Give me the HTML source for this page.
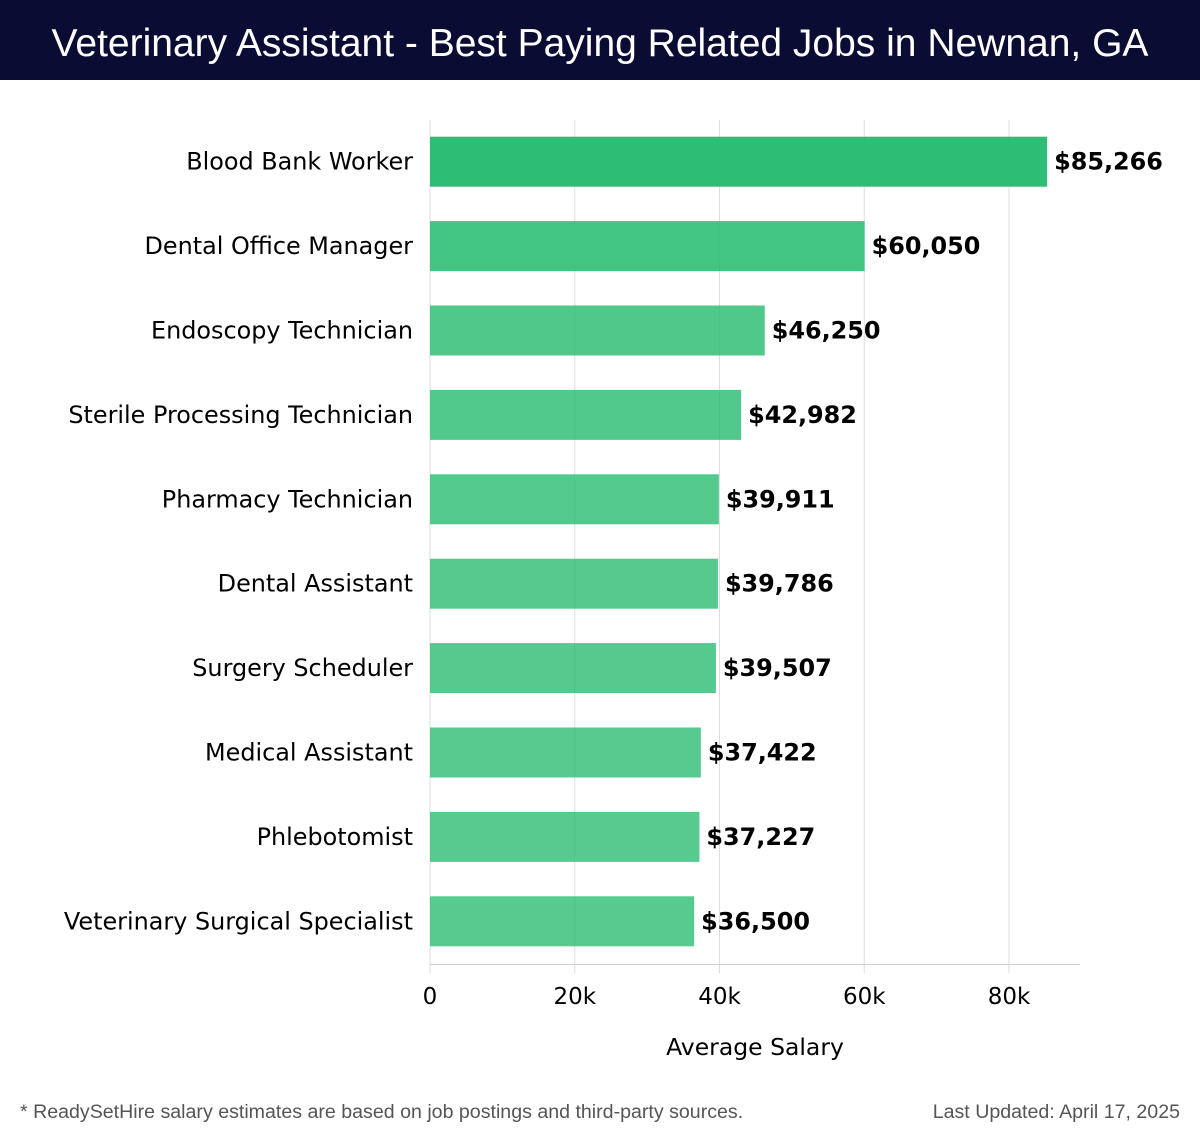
<!DOCTYPE html>
<html><head><meta charset="utf-8"><style>
body{margin:0;width:1200px;height:1140px;background:#fff;overflow:hidden;font-family:"DejaVu Sans","Liberation Sans",sans-serif}
#hdr{position:absolute;left:0;top:0;width:1200px;height:80px;background:#0b0c33;color:#fff;font-family:"Liberation Sans",sans-serif;font-size:39px;text-align:center;line-height:88px}
.ft{position:absolute;top:1101px;font-family:"Liberation Sans",sans-serif;font-size:19.6px;color:#555}
</style></head><body>
<div id="hdr">Veterinary Assistant - Best Paying Related Jobs in Newnan, GA</div>
<svg id="chart" width="1200" height="1140" style="position:absolute;left:0;top:0"></svg>
<div class="ft" style="left:20px">* ReadySetHire salary estimates are based on job postings and third-party sources.</div>
<div class="ft" style="right:20px">Last Updated: April 17, 2025</div>
<script>
const categories=["Blood Bank Worker","Dental Office Manager","Endoscopy Technician","Sterile Processing Technician","Pharmacy Technician","Dental Assistant","Surgery Scheduler","Medical Assistant","Phlebotomist","Veterinary Surgical Specialist"];
const values=[85266,60050,46250,42982,39911,39786,39507,37422,37227,36500];
const ticks=[0,20000,40000,60000,80000];
const tickLabels=["0","20k","40k","60k","80k"];
const svg=document.getElementById('chart');const NS='http://www.w3.org/2000/svg';
const x0=430,pxPer=(1009-430)/80000;const x=v=>x0+v*pxPer;
const top0=120,step=84.4,bh=50;const yc=i=>top0+step*(i+0.5)-0.5;
function mk(t,a,p){const e=document.createElementNS(NS,t);for(const k in a)e.setAttribute(k,a[k]);(p||svg).appendChild(e);return e;}
ticks.forEach((t,i)=>{const g=mk('line',{x1:x(t),x2:x(t),y1:120,y2:973,stroke:'#dddddd','stroke-width':1});


const l=mk('text',{x:x(t),y:1004,'text-anchor':'middle','font-size':23,fill:'#000'});l.textContent=tickLabels[i];

});
const ax=mk('line',{x1:430,x2:1080,y1:964.5,y2:964.5,stroke:'#d0d0d0'});


const mn=Math.min(...values),mx=Math.max(...values);
values.forEach((v,i)=>{const c=yc(i);
const r=mk('rect',{x:x0,y:c-bh/2,width:x(v)-x0,height:bh,fill:'#2dbd74','fill-opacity':0.8+0.2*(v-mn)/(mx-mn)});


const lb=mk('text',{x:413,y:c+8,'text-anchor':'end','font-size':23.9,fill:'#000'});lb.textContent=categories[i];


const vl=mk('text',{x:x(v)+7,y:c+8,'font-size':23.9,'font-weight':'bold',fill:'#000'});vl.textContent='$'+v.toLocaleString('en-US');

});
const at=mk('text',{x:755,y:1055,'text-anchor':'middle','font-size':23.5,fill:'#000'});at.textContent='Average Salary';


</script>
</body></html>
